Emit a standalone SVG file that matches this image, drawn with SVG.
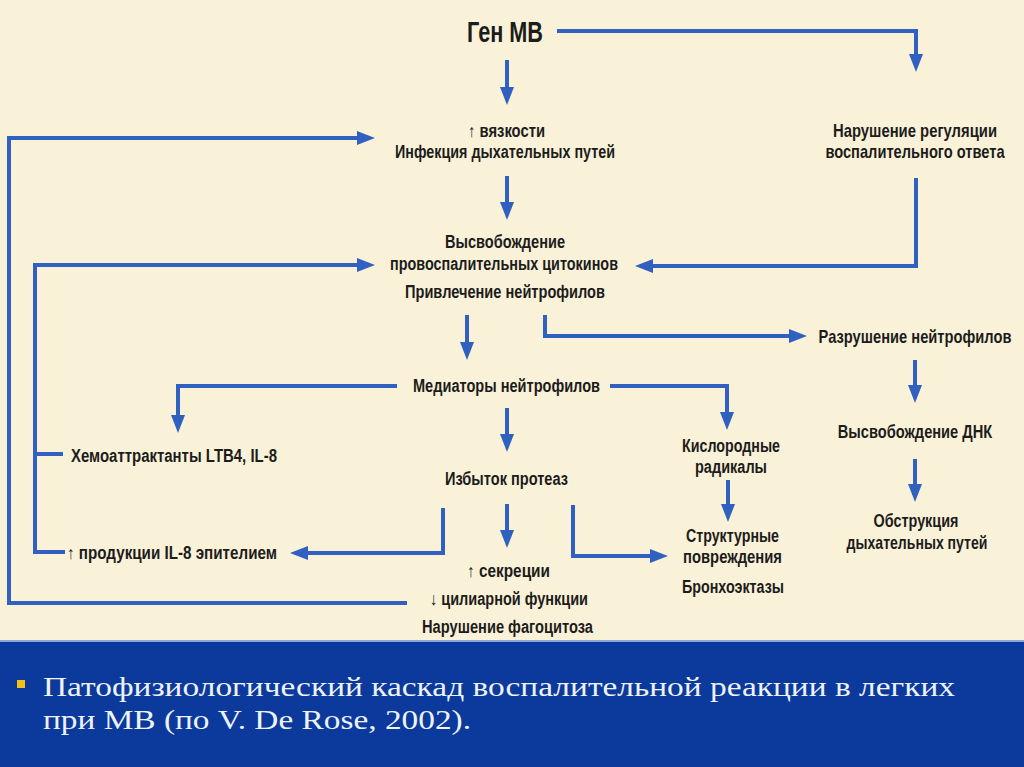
<svg xmlns="http://www.w3.org/2000/svg" width="1024" height="767" viewBox="0 0 1024 767">
<style>
.t{font-family:"Liberation Sans","DejaVu Sans",sans-serif;font-weight:bold;font-size:18px;fill:#1c1c1c}
.h{font-size:29px}
.c{fill:none;stroke:#3061C0;stroke-width:4;stroke-linejoin:miter}
.a{marker-end:url(#ah)}
.cap{font-family:"Liberation Serif","DejaVu Serif",serif;font-size:28px;fill:#EEF2FA}
</style>
<defs>
<marker id="ah" markerUnits="userSpaceOnUse" markerWidth="20" markerHeight="14" refX="8" refY="7" orient="auto">
<path d="M0,0 L18,7 L0,14 z" fill="#3061C0"/>
</marker>
</defs>
<rect x="0" y="0" width="1024" height="767" fill="#FAF2D8"/>
<rect x="0" y="642" width="1024" height="125" fill="#0B3A9C"/>
<rect x="0" y="640" width="1024" height="2" fill="#8FA6D6"/>

<g id="connectors">
<path class="c a" d="M507,60 V95"/>
<path class="c a" d="M557,31 H916 V62"/>
<path class="c a" d="M507,176 V210"/>
<path class="c a" d="M407,603 H9 V138 H365"/>
<path class="c a" d="M65,552 H35 V265 H365"/>
<path class="c" d="M35,454 H63"/>
<path class="c a" d="M916,178 V266 H645"/>
<path class="c a" d="M467,315 V350"/>
<path class="c a" d="M545,315 V336 H797"/>
<path class="c a" d="M397,386 H178 V423"/>
<path class="c a" d="M610,386 H727 V420"/>
<path class="c a" d="M507,408 V442"/>
<path class="c a" d="M443,508 V553 H300"/>
<path class="c a" d="M507,504 V538"/>
<path class="c a" d="M573,505 V556 H658"/>
<path class="c a" d="M728,480 V512"/>
<path class="c a" d="M915,360 V393"/>
<path class="c a" d="M915,459 V492"/>
</g>

<g id="gen"><text class="t h" x="467" y="42" textLength="76" lengthAdjust="spacingAndGlyphs">Ген МВ</text></g>
<g id="viscosity">
<text class="t" x="468" y="137" textLength="77" lengthAdjust="spacingAndGlyphs">↑ вязкости</text>
<text class="t" x="395" y="158" textLength="220" lengthAdjust="spacingAndGlyphs">Инфекция дыхательных путей</text>
</g>
<g id="dysregulation">
<text class="t" transform="translate(915,137) scale(0.8,1)" text-anchor="middle" textLength="205" lengthAdjust="spacingAndGlyphs">Нарушение регуляции</text>
<text class="t" transform="translate(915,158) scale(0.8,1)" text-anchor="middle" textLength="224" lengthAdjust="spacingAndGlyphs">воспалительного ответа</text>
</g>
<g id="cytokines">
<text class="t" x="445" y="248" textLength="120" lengthAdjust="spacingAndGlyphs">Высвобождение</text>
<text class="t" x="390" y="270" textLength="228" lengthAdjust="spacingAndGlyphs">провоспалительных цитокинов</text>
<text class="t" x="405" y="298" textLength="200" lengthAdjust="spacingAndGlyphs">Привлечение нейтрофилов</text>
</g>
<g id="destruction"><text class="t" transform="translate(915,343) scale(0.8,1)" text-anchor="middle" textLength="241" lengthAdjust="spacingAndGlyphs">Разрушение нейтрофилов</text></g>
<g id="mediators"><text class="t" x="413" y="392" textLength="187" lengthAdjust="spacingAndGlyphs">Медиаторы нейтрофилов</text></g>
<g id="chemo"><text class="t" x="71" y="462" textLength="206" lengthAdjust="spacingAndGlyphs">Хемоаттрактанты LTB4, IL-8</text></g>
<g id="oxygen">
<text class="t" x="682" y="452" textLength="98" lengthAdjust="spacingAndGlyphs">Кислородные</text>
<text class="t" x="695" y="473" textLength="72" lengthAdjust="spacingAndGlyphs">радикалы</text>
</g>
<g id="dna"><text class="t" transform="translate(915,438) scale(0.8,1)" text-anchor="middle" textLength="193" lengthAdjust="spacingAndGlyphs">Высвобождение ДНК</text></g>
<g id="protease"><text class="t" x="445" y="485" textLength="123" lengthAdjust="spacingAndGlyphs">Избыток протеаз</text></g>
<g id="structural">
<text class="t" x="686" y="542" textLength="93" lengthAdjust="spacingAndGlyphs">Структурные</text>
<text class="t" x="683" y="563" textLength="99" lengthAdjust="spacingAndGlyphs">повреждения</text>
<text class="t" x="682" y="593" textLength="102" lengthAdjust="spacingAndGlyphs">Бронхоэктазы</text>
</g>
<g id="obstruction">
<text class="t" transform="translate(916,527) scale(0.8,1)" text-anchor="middle" textLength="106" lengthAdjust="spacingAndGlyphs">Обструкция</text>
<text class="t" transform="translate(917,549) scale(0.8,1)" text-anchor="middle" textLength="176" lengthAdjust="spacingAndGlyphs">дыхательных путей</text>
</g>
<g id="il8"><text class="t" x="67" y="559" textLength="210" lengthAdjust="spacingAndGlyphs">↑ продукции  IL-8 эпителием</text></g>
<g id="secretion">
<text class="t" x="467" y="577" textLength="83" lengthAdjust="spacingAndGlyphs">↑ секреции</text>
<text class="t" x="430" y="605" textLength="158" lengthAdjust="spacingAndGlyphs">↓ цилиарной функции</text>
<text class="t" x="422" y="633" textLength="171" lengthAdjust="spacingAndGlyphs">Нарушение фагоцитоза</text>
</g>

<g id="caption">
<rect x="17" y="680" width="8" height="8" fill="#F2C21A"/>
<text class="cap" x="43" y="696" textLength="912" lengthAdjust="spacingAndGlyphs">Патофизиологический каскад воспалительной реакции в легких</text>
<text class="cap" x="43" y="729" textLength="428" lengthAdjust="spacingAndGlyphs">при МВ (по V. De Rose, 2002).</text>
</g>
</svg>
